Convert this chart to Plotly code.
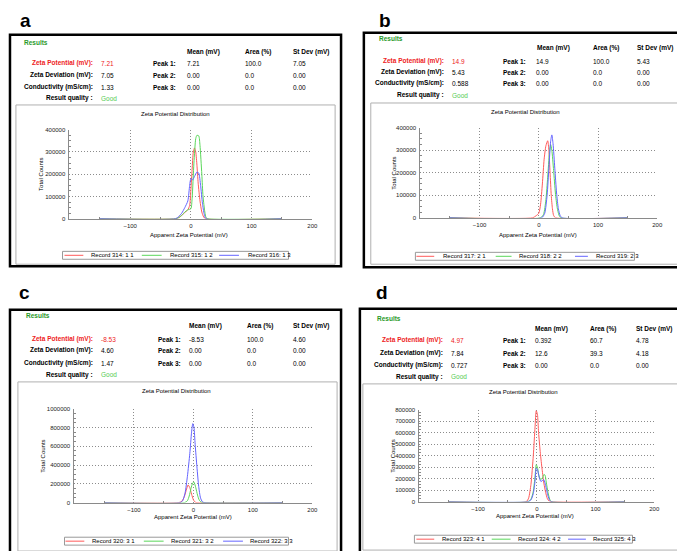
import plotly.graph_objects as go

W, H = 685, 551
def fx(px): return px / W
def fy(py): return 1 - py / H

# ---------------- data ----------------
# Panel a
a_red_x = [-150, -25, -20, -15, -10, -5, -2, 0, 2, 4, 6, 8, 10, 12, 15, 18, 21, 24, 150]
a_red_y = [0, 0, 5000, 15000, 28000, 40000, 60000, 130000, 220000, 300000, 318000, 300000, 240000, 160000, 80000, 30000, 8000, 0, 0]
a_grn_x = [-150, -25, -20, -15, -10, -5, 0, 2, 5, 8, 10, 13, 15, 18, 20, 23, 25, 28, 150]
a_grn_y = [0, 0, 5000, 15000, 30000, 40000, 45000, 90000, 250000, 360000, 375000, 372000, 330000, 200000, 100000, 30000, 5000, 0, 0]
a_blu_x = [-150, -25, -20, -15, -10, -5, -2, 0, 3, 6, 10, 13, 16, 19, 22, 25, 150]
a_blu_y = [0, 0, 10000, 25000, 50000, 80000, 150000, 180000, 175000, 190000, 210000, 205000, 150000, 70000, 20000, 0, 0]
# Panel b
b_red_x = [-150, -10, -5, 0, 3, 6, 9, 12, 15, 17, 19, 21, 23, 25, 28, 150]
b_red_y = [0, 0, 8000, 20000, 60000, 150000, 260000, 320000, 342000, 300000, 200000, 100000, 40000, 10000, 0, 0]
b_grn_x = [-150, 3, 8, 12, 15, 18, 20, 22, 25, 28, 31, 34, 37, 150]
b_grn_y = [0, 0, 15000, 80000, 180000, 290000, 325000, 300000, 210000, 110000, 45000, 12000, 0, 0]
b_blu_x = [-150, 5, 10, 14, 17, 20, 22, 24, 27, 30, 33, 36, 39, 150]
b_blu_y = [0, 0, 20000, 100000, 220000, 340000, 368000, 330000, 220000, 110000, 40000, 10000, 0, 0]
# Panel c
c_red_x = [-150, -25, -20, -16, -12, -9, -6, -3, 0, 3, 6, 150]
c_red_y = [0, 0, 10000, 50000, 130000, 188000, 160000, 90000, 30000, 5000, 0, 0]
c_grn_x = [-150, -15, -10, -7, -4, -1, 1, 4, 7, 10, 13, 16, 150]
c_grn_y = [0, 0, 20000, 70000, 150000, 210000, 218000, 160000, 80000, 25000, 5000, 0, 0]
c_blu_x = [-150, -22, -18, -14, -10, -6, -3, -1, 1, 3, 6, 9, 12, 15, 18, 150]
c_blu_y = [0, 0, 20000, 100000, 280000, 520000, 750000, 840000, 800000, 620000, 380000, 170000, 50000, 10000, 0, 0]
# Panel d
d_red_x = [-150, -18, -14, -10, -6, -3, -1, 1, 3, 6, 9, 12, 15, 18, 21, 24, 150]
d_red_y = [0, 0, 30000, 150000, 400000, 650000, 790000, 760000, 600000, 420000, 280000, 160000, 80000, 25000, 5000, 0, 0]
d_grn_x = [-150, -15, -10, -6, -3, -1, 1, 3, 6, 9, 12, 14, 16, 19, 22, 25, 150]
d_grn_y = [0, 0, 20000, 90000, 220000, 320000, 300000, 240000, 195000, 200000, 235000, 230000, 170000, 80000, 20000, 0, 0]
d_blu_x = [-150, -15, -10, -6, -3, -1, 1, 4, 7, 10, 12, 15, 18, 21, 24, 150]
d_blu_y = [0, 0, 15000, 70000, 180000, 290000, 280000, 210000, 175000, 185000, 190000, 140000, 70000, 20000, 0, 0]

record_labels = [
    ["Record 314: 1 1", "Record 315: 1 2", "Record 316: 1 3"],
    ["Record 317: 2 1", "Record 318: 2 2", "Record 319: 2 3"],
    ["Record 320: 3 1", "Record 321: 3 2", "Record 322: 3 3"],
    ["Record 323: 4 1", "Record 324: 4 2", "Record 325: 4 3"],
]
panel_letters = ["a", "b", "c", "d"]
zeta_potential = ["7.21", "14.9", "-8.53", "4.97"]
zeta_deviation = ["7.05", "5.43", "4.60", "7.84"]
conductivity = ["1.33", "0.588", "1.47", "0.727"]
peak_mean = [["7.21", "0.00", "0.00"], ["14.9", "0.00", "0.00"], ["-8.53", "0.00", "0.00"], ["0.392", "12.6", "0.00"]]
peak_area = [["100.0", "0.0", "0.0"], ["100.0", "0.0", "0.0"], ["100.0", "0.0", "0.0"], ["60.7", "39.3", "0.0"]]
peak_sd = [["7.05", "0.00", "0.00"], ["5.43", "0.00", "0.00"], ["4.60", "0.00", "0.00"], ["4.78", "4.18", "0.00"]]
y_maxes = [400000, 400000, 1000000, 800000]
y_steps = [100000, 100000, 200000, 100000]
x_ticks = [-100, 0, 100, 200]

series = [
    [(a_red_x, a_red_y), (a_grn_x, a_grn_y), (a_blu_x, a_blu_y)],
    [(b_red_x, b_red_y), (b_grn_x, b_grn_y), (b_blu_x, b_blu_y)],
    [(c_red_x, c_red_y), (c_grn_x, c_grn_y), (c_blu_x, c_blu_y)],
    [(d_red_x, d_red_y), (d_grn_x, d_grn_y), (d_blu_x, d_blu_y)],
]

# ---------------- layout geometry (pixels) ----------------
COLORS = ["rgb(255,90,90)", "rgb(90,215,90)", "rgb(100,100,255)"]
FONT = "Liberation Sans, Arial, sans-serif"

geo = [
    dict(plot=(62, 307, 120, 210), outer=(2, 24, 336, 258), inner=(8, 95, 330, 256),
         letter=(18, 10), results=(14, 32), head=41, cols=(179, 237, 285), rows=(53, 65, 77, 88),
         labR=88, valX=92, peakR=172, peakV=179, title=(169, 104), xt=(183, 226), yt=(33, 165),
         leg=(55, 283, 243, 251), legl=((57, 76, 82), (135, 155, 161), (213, 233, 240))),
    dict(plot=(416, 655, 118, 209), outer=(359, 22, 683, 259), inner=(366, 93, 678, 256),
         letter=(380, 10), results=(372, 28), head=37, cols=(532, 588, 633), rows=(51, 62, 73, 85),
         labR=442, valX=446, peakR=525, peakV=531, title=(522, 102), xt=(535, 226), yt=(390, 164),
         leg=(411, 632, 244, 252), legl=((412, 430, 437), (492, 508, 514), (572, 585, 591))),
    dict(plot=(67, 307, 402, 497), outer=(2, 302, 336, 549), inner=(10, 375, 332, 546),
         letter=(17, 285), results=(16, 308), head=318, cols=(181, 239, 286), rows=(332, 343, 356, 368),
         labR=88, valX=92, peakR=177, peakV=181, title=(170, 384), xt=(187, 512), yt=(35, 450),
         leg=(57, 283, 532, 540), legl=((58, 77, 83), (137, 157, 162), (217, 237, 242))),
    dict(plot=(415, 652, 403, 496), outer=(355, 301, 680, 548), inner=(358, 377, 676, 545),
         letter=(377, 285), results=(370, 311), head=321, cols=(530, 585, 632), rows=(333, 346, 358, 370),
         labR=441, valX=445, peakR=525, peakV=530, title=(520, 385), xt=(532, 511), yt=(388, 450),
         leg=(410, 630, 530, 538), legl=((412, 430, 436), (488, 507, 512), (565, 583, 588))),
]

fig = go.Figure()
shapes = []
ann = []

def text(px, py, s, size=6.5, color="black", bold=False, xanchor="left", yanchor="middle", angle=0):
    if bold:
        s = "<b>" + s + "</b>"
    ann.append(dict(x=fx(px), y=fy(py), xref="paper", yref="paper", text=s, showarrow=False,
                    xanchor=xanchor, yanchor=yanchor, textangle=angle,
                    font=dict(size=size, color=color, family=FONT)))

def rect(x0, y0, x1, y1, color, width, fill=None):
    shapes.append(dict(type="rect", xref="paper", yref="paper", x0=fx(x0), y0=fy(y1), x1=fx(x1), y1=fy(y0),
                       line=dict(color=color, width=width), fillcolor=fill, layer="below"))

for i, g in enumerate(geo):
    sfx = "" if i == 0 else str(i + 1)
    xa, ya = "x" + sfx, "y" + sfx
    for j, (xs, ys) in enumerate(series[i]):
        fig.add_trace(go.Scatter(x=xs, y=ys, mode="lines", xaxis=xa, yaxis=ya,
                                 line=dict(color=COLORS[j], width=1, shape="spline", smoothing=0.6),
                                 showlegend=False, hoverinfo="skip"))
    x0, x1, y0, y1 = g["plot"]
    axcommon = dict(showgrid=True, gridcolor="#8c8c8c", griddash="1px,2px", gridwidth=1,
                    showline=True, linecolor="#8a8a8a", linewidth=1, zeroline=False,
                    tickfont=dict(size=6, family=FONT, color="#222"))
    fig.update_layout(**{
        "xaxis" + sfx: dict(domain=[fx(x0), fx(x1)], anchor=ya, range=[-200, 200],
                            tickvals=x_ticks, ticks="", ticklabelstandoff=1,
                            minor=dict(tickvals=[-150, -50, 50, 150], ticks="inside", ticklen=2,
                                       tickcolor="#888", showgrid=False), **axcommon),
        "yaxis" + sfx: dict(domain=[fy(y1), fy(y0)], anchor=xa, range=[0, y_maxes[i]],
                            dtick=y_steps[i], tick0=0, ticks="", ticklabelstandoff=2,
                            tickformat="d",
                            minor=dict(dtick=y_steps[i] / 4, ticks="inside", ticklen=2,
                                       tickcolor="#888", showgrid=False), **axcommon),
    })
    # borders
    ox0, oy0, ox1, oy1 = g["outer"]
    rect(ox0, oy0, ox1, oy1, "black", 2.5)
    ix0, iy0, ix1, iy1 = g["inner"]
    rect(ix0, iy0, ix1, iy1, "#b0b0b0", 1)
    # panel letter
    lx, ly = g["letter"]
    text(lx, ly, panel_letters[i], size=19, bold=True, xanchor="center", yanchor="middle")
    # results block
    rx, ry = g["results"]
    text(rx, ry, "Results", bold=True, color="#2a9a2a")
    for k, h in enumerate(["Mean (mV)", "Area (%)", "St Dev (mV)"]):
        text(g["cols"][k], g["head"], h, bold=True)
    rows = g["rows"]
    text(g["labR"], rows[0], "Zeta Potential (mV):", bold=True, color="#ee2222", xanchor="right")
    text(g["valX"], rows[0], zeta_potential[i], color="#ee2222")
    text(g["labR"], rows[1], "Zeta Deviation (mV):", bold=True, xanchor="right")
    text(g["valX"], rows[1], zeta_deviation[i])
    text(g["labR"], rows[2], "Conductivity (mS/cm):", bold=True, xanchor="right")
    text(g["valX"], rows[2], conductivity[i])
    text(g["labR"], rows[3], "Result quality :", bold=True, xanchor="right")
    text(g["valX"], rows[3], "Good", color="#55cc55")
    for k in range(3):
        text(g["peakR"], rows[k], "Peak %d:" % (k + 1), bold=True, xanchor="right")
        text(g["peakV"], rows[k], peak_mean[i][k])
        text(g["cols"][1], rows[k], peak_area[i][k])
        text(g["cols"][2], rows[k], peak_sd[i][k])
    # chart titles
    tx, ty = g["title"]
    text(tx, ty, "Zeta Potential Distribution", size=6, xanchor="center")
    xx, xy = g["xt"]
    text(xx, xy, "Apparent Zeta Potential (mV)", size=6, xanchor="center")
    yx, yy = g["yt"]
    text(yx, yy, "Total Counts", size=6, xanchor="center", angle=-90)
    # legend
    lx0, lx1, ly0, ly1 = g["leg"]
    rect(lx0, ly0, lx1, ly1, "#999999", 1)
    lyc = (ly0 + ly1) / 2
    for k, (a0, a1, tpos) in enumerate(g["legl"]):
        shapes.append(dict(type="line", xref="paper", yref="paper", x0=fx(a0), x1=fx(a1),
                           y0=fy(lyc), y1=fy(lyc), line=dict(color=COLORS[k], width=1)))
        text(tpos, lyc, record_labels[i][k], size=6)

fig.update_layout(width=W, height=H, margin=dict(l=0, r=0, t=0, b=0),
                  paper_bgcolor="white", plot_bgcolor="white",
                  shapes=shapes, annotations=ann, showlegend=False,
                  font=dict(family=FONT))
fig.write_html("out.html")
